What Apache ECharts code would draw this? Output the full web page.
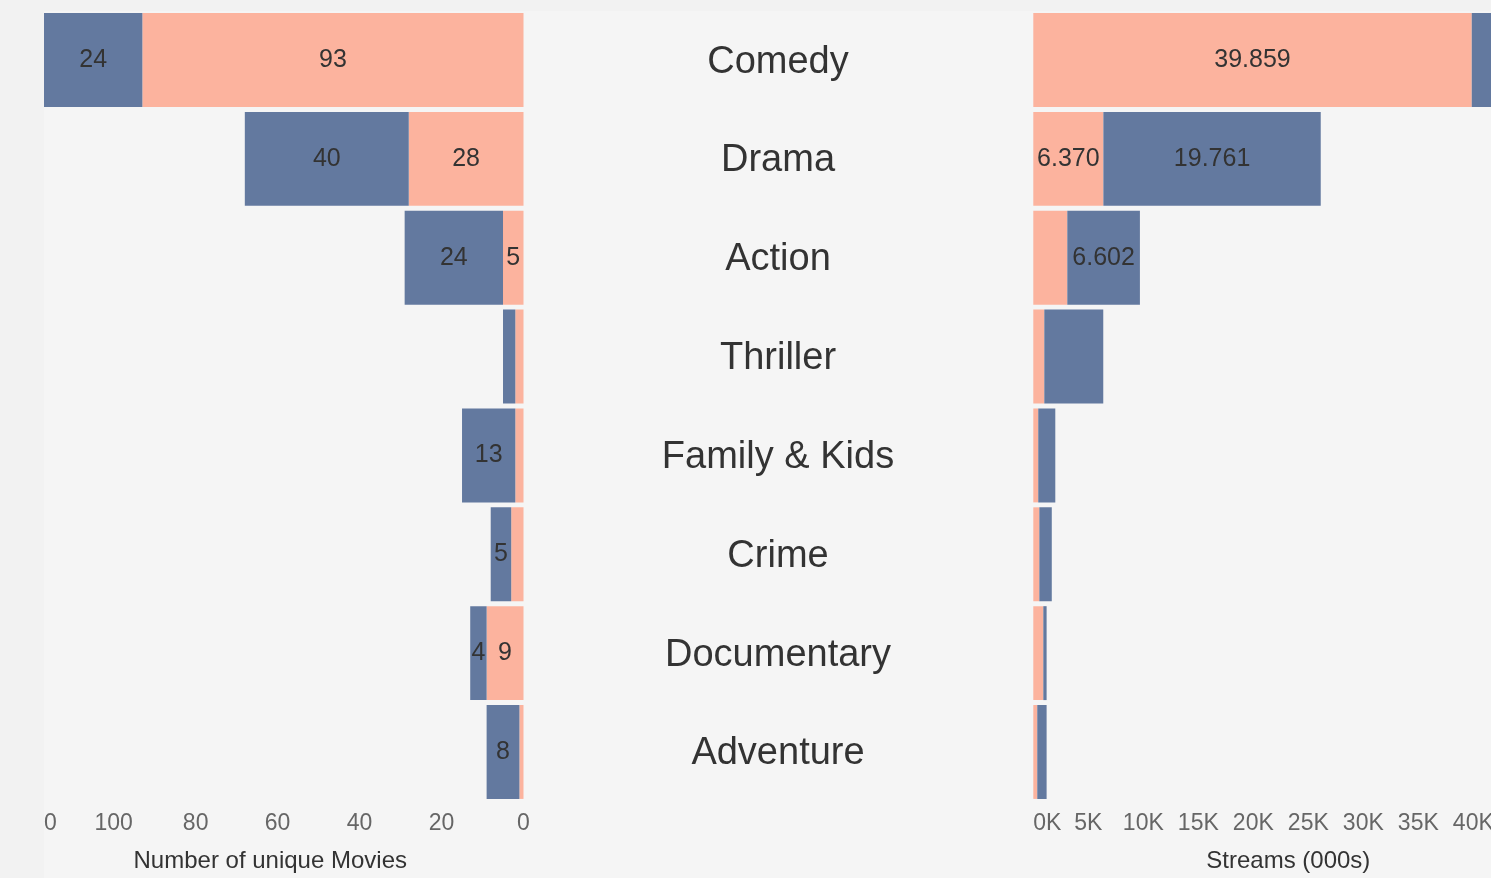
<!DOCTYPE html>
<html>
<head>
<meta charset="utf-8">
<script src="https://cdn.jsdelivr.net/npm/echarts@6/dist/echarts.min.js"></script>
<style>
  html, body { margin: 0; padding: 0; background: #f2f2f2; }
  #chart { width: 1491px; height: 878px; }
</style>
</head>
<body>
<div id="chart"></div>
<script>
// Genres, top to bottom
const categories = ['Comedy', 'Drama', 'Action', 'Thriller', 'Family & Kids', 'Crime', 'Documentary', 'Adventure'];

// Number of unique movies per genre (two groups, stacked)
const moviesSalmon = [93, 28, 5, 2, 2, 3, 9, 1];
const moviesBlue   = [24, 40, 24, 3, 13, 5, 4, 8];

// Streams in thousands per genre (two groups, stacked)
const streamsSalmon = [39859, 6370, 3090, 1000, 450, 550, 910, 360];
const streamsBlue   = [3200, 19761, 6602, 5360, 1550, 1130, 300, 850];

// Tick values and their labels
const movieTicks      = [0, 20, 40, 60, 80, 100, 117];
const movieTickLabels = ['0', '20', '40', '60', '80', '100', '0'];
const streamTicks      = [0, 5000, 10000, 15000, 20000, 25000, 30000, 35000, 40000, 45000];
const streamTickLabels = ['0K', '5K', '10K', '15K', '20K', '25K', '30K', '35K', '40K', '45K'];

const SALMON = '#fcb39e';
const BLUE = '#63799f';
const FONT = '"Liberation Sans", Arial, sans-serif';

function thousands(v) {
  const k = Math.floor(v / 1000);
  const r = String(Math.round(v % 1000)).padStart(3, '0');
  return k > 0 ? k + '.' + r : String(v);
}

const barLabel = (minShow, fmt) => ({
  show: true,
  position: 'inside',
  color: '#333333',
  fontFamily: FONT,
  fontSize: 25,
  formatter: p => (p.value >= minShow ? fmt(p.value) : '')
});

const chart = echarts.init(document.getElementById('chart'), null, { renderer: 'canvas' });

const gridTop = 10.6;
const gridBottom = 76.6;

chart.setOption({
  backgroundColor: '#f2f2f2',
  animation: false,
  graphic: [{
    type: 'rect',
    z: -10,
    silent: true,
    shape: { x: 44, y: 11, width: 1491 - 44, height: 878 - 11 },
    style: { fill: '#f5f5f5' }
  }],
  grid: [
    { left: 44, right: 1491 - 523.5, top: gridTop, bottom: gridBottom, containLabel: false, outerBoundsMode: 'none' },
    { left: 1033.3, width: 495, top: gridTop, bottom: gridBottom, containLabel: false, outerBoundsMode: 'none' }
  ],
  xAxis: [
    {
      gridIndex: 0,
      type: 'value',
      inverse: true,
      min: 0,
      max: 117,
      axisLine: { show: false },
      axisTick: { show: false },
      splitLine: { show: false },
      axisLabel: {
        customValues: movieTicks,
        showMaxLabel: true,
        alignMaxLabel: 'left',
        margin: 11,
        color: '#666666',
        fontFamily: FONT,
        fontSize: 23,
        formatter: v => movieTickLabels[movieTicks.indexOf(v)] ?? ''
      },
      name: 'Number of unique Movies',
      nameLocation: 'middle',
      nameGap: 48,
      nameTextStyle: { color: '#333333', fontFamily: FONT, fontSize: 24, padding: [0, 27, 0, 0] }
    },
    {
      gridIndex: 1,
      type: 'value',
      min: 0,
      max: 45000,
      axisLine: { show: false },
      axisTick: { show: false },
      splitLine: { show: false },
      axisLabel: {
        customValues: streamTicks,
        alignMinLabel: 'left',
        margin: 11,
        color: '#666666',
        fontFamily: FONT,
        fontSize: 23,
        formatter: v => streamTickLabels[streamTicks.indexOf(v)] ?? ''
      },
      name: 'Streams (000s)',
      nameLocation: 'middle',
      nameGap: 48,
      nameTextStyle: { color: '#333333', fontFamily: FONT, fontSize: 24, padding: [0, 0, 0, 15] }
    }
  ],
  yAxis: [
    {
      gridIndex: 0,
      type: 'category',
      data: categories,
      inverse: true,
      position: 'right',
      axisLine: { show: false },
      axisTick: { show: false },
      axisLabel: {
        margin: 254.5,
        align: 'center',
        formatter: v => '{g|' + v + '}',
        rich: {
          g: {
            color: '#333333',
            fontFamily: FONT,
            fontSize: 38,
            padding: [4, 0, 0, 0]
          }
        }
      }
    },
    {
      gridIndex: 1,
      type: 'category',
      data: categories,
      inverse: true,
      axisLine: { show: false },
      axisTick: { show: false },
      axisLabel: { show: false }
    }
  ],
  series: [
    {
      name: 'Movies group A',
      type: 'bar',
      stack: 'movies',
      xAxisIndex: 0, yAxisIndex: 0,
      data: moviesSalmon,
      barCategoryGap: '5%',
      itemStyle: { color: SALMON },
      label: barLabel(4, v => String(v))
    },
    {
      name: 'Movies group B',
      type: 'bar',
      stack: 'movies',
      xAxisIndex: 0, yAxisIndex: 0,
      data: moviesBlue,
      barCategoryGap: '5%',
      itemStyle: { color: BLUE },
      label: barLabel(4, v => String(v))
    },
    {
      name: 'Streams group A',
      type: 'bar',
      stack: 'streams',
      xAxisIndex: 1, yAxisIndex: 1,
      data: streamsSalmon,
      barCategoryGap: '5%',
      itemStyle: { color: SALMON },
      label: barLabel(6000, thousands)
    },
    {
      name: 'Streams group B',
      type: 'bar',
      stack: 'streams',
      xAxisIndex: 1, yAxisIndex: 1,
      data: streamsBlue,
      barCategoryGap: '5%',
      itemStyle: { color: BLUE },
      label: barLabel(6000, thousands)
    }
  ]
});
</script>
</body>
</html>
